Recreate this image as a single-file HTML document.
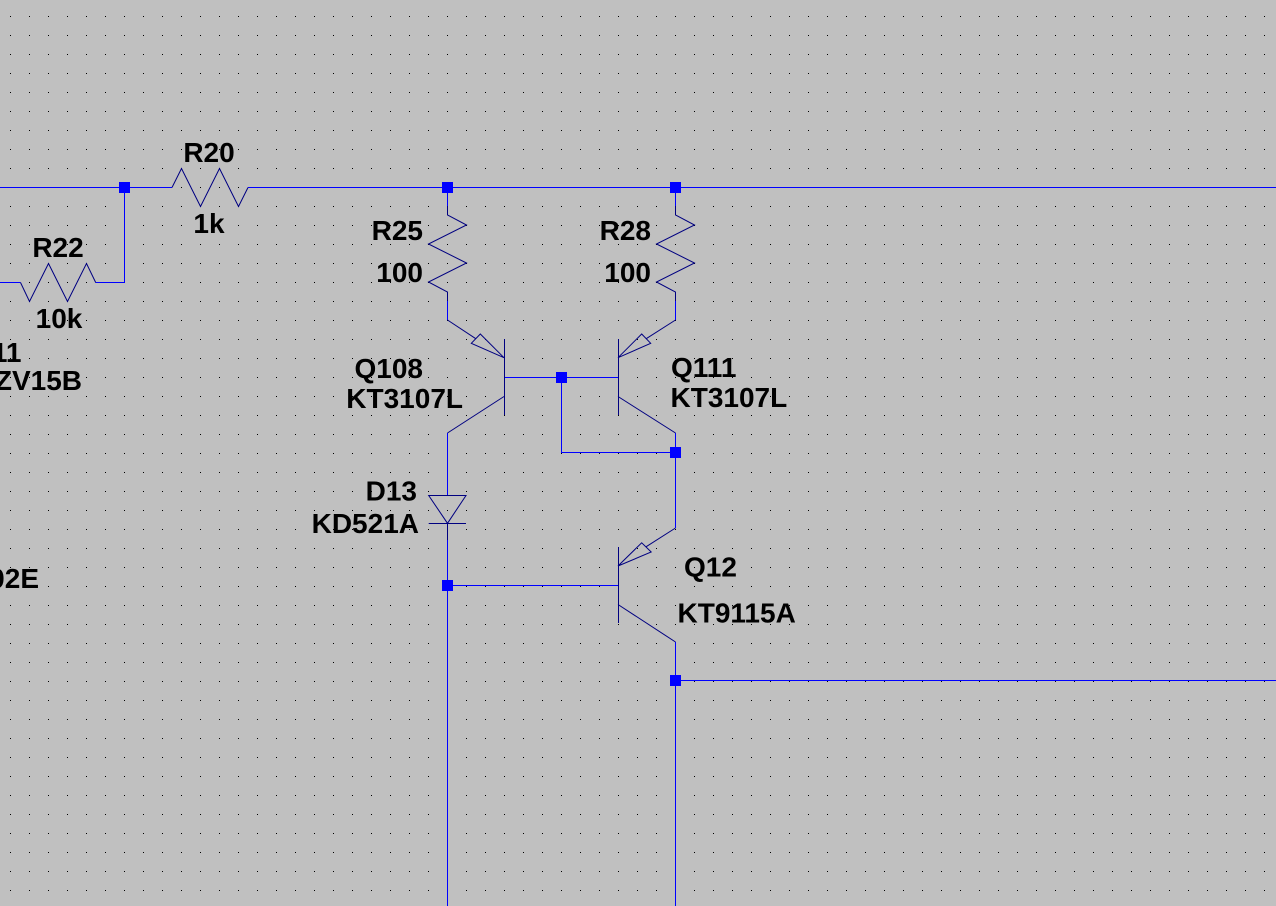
<!DOCTYPE html>
<html>
<head>
<meta charset="utf-8">
<style>
html,body{margin:0;padding:0;background:#c0c0c0;}
svg{display:block;}
text{font-family:"Liberation Sans",Arial,sans-serif;font-weight:bold;font-size:28px;fill:#000;}
</style>
</head>
<body>
<svg width="1276" height="906" viewBox="0 0 1276 906" xmlns="http://www.w3.org/2000/svg">
<defs>
<pattern id="g" x="10" y="16" width="19" height="19" patternUnits="userSpaceOnUse">
<rect x="0" y="0" width="1" height="1" fill="#000"/>
</pattern>
</defs>
<rect width="1276" height="906" fill="#c0c0c0"/>
<rect width="1276" height="906" fill="url(#g)"/>

<!-- WIRES -->
<g stroke="#0000ff" stroke-width="1" fill="none" shape-rendering="crispEdges">
<line x1="0" y1="187.5" x2="172" y2="187.5"/>
<line x1="248" y1="187.5" x2="1276" y2="187.5"/>
<polyline points="124.5,187.5 124.5,282.5 95.7,282.5"/>
<line x1="0" y1="282.5" x2="20.5" y2="282.5"/>
<line x1="447.5" y1="187" x2="447.5" y2="206"/>
<line x1="447.5" y1="301" x2="447.5" y2="320"/>
<line x1="675.5" y1="187" x2="675.5" y2="206"/>
<line x1="675.5" y1="301" x2="675.5" y2="320"/>
<line x1="504.5" y1="377.5" x2="618.5" y2="377.5"/>
<polyline points="561.5,377.5 561.5,452.5 675.5,452.5"/>
<line x1="675.5" y1="433" x2="675.5" y2="528"/>
<line x1="447.5" y1="433" x2="447.5" y2="495"/>
<line x1="447.5" y1="540" x2="447.5" y2="906"/>
<line x1="447.5" y1="585.5" x2="618.5" y2="585.5"/>
<line x1="675.5" y1="642" x2="675.5" y2="906"/>
<line x1="675.5" y1="680.5" x2="1276" y2="680.5"/>
</g>

<!-- SYMBOLS -->
<g stroke="#000080" stroke-width="1" fill="none">
<!-- R20 -->
<polyline points="172,187.5 181.5,168.5 200.5,206.5 219.5,168.5 238.5,206.5 248,187.5"/>
<!-- R22 -->
<polyline points="95.7,282.5 86.5,263.5 67.5,301.5 48.5,263.5 29.5,301.5 20.5,282.5"/>
<!-- R25 -->
<polyline points="447.5,206 447.5,215 466.5,225 428.5,244 466.5,263 428.5,282 447.5,292 447.5,301"/>
<!-- R28 -->
<polyline points="675.5,206 675.5,215 694.5,225 656.5,244 694.5,263 656.5,282 675.5,292 675.5,301"/>

<!-- Q108 -->
<line x1="504.5" y1="339" x2="504.5" y2="415"/>
<line x1="447.5" y1="320" x2="475.8" y2="338.7"/>
<polygon points="471.3,343.3 480.3,334 504,357.7"/>
<line x1="504" y1="396.5" x2="447.5" y2="433"/>

<!-- Q111 -->
<line x1="618.5" y1="339" x2="618.5" y2="415"/>
<line x1="675.5" y1="320" x2="646.2" y2="338.7"/>
<polygon points="650.7,343.3 641.7,334 618,357.7"/>
<line x1="618" y1="396.5" x2="675.5" y2="433"/>

<!-- Q12 -->
<line x1="618.5" y1="547" x2="618.5" y2="623"/>
<line x1="675.5" y1="528" x2="646.2" y2="546.7"/>
<polygon points="651.2,552 641.7,542.8 618,566"/>
<line x1="618" y1="604.5" x2="675.5" y2="642"/>

<!-- D13 -->
<polygon points="428.7,495.5 466,495.5 447.5,523.3"/>
<line x1="428.7" y1="523.5" x2="466" y2="523.5"/>
<line x1="447.5" y1="523" x2="447.5" y2="540"/>
</g>

<!-- JUNCTIONS -->
<g fill="#0000ff" shape-rendering="crispEdges">
<rect x="119" y="182" width="11" height="11"/>
<rect x="442" y="182" width="11" height="11"/>
<rect x="670" y="182" width="11" height="11"/>
<rect x="556" y="372" width="11" height="11"/>
<rect x="670" y="447" width="11" height="11"/>
<rect x="442" y="580" width="11" height="11"/>
<rect x="670" y="675" width="11" height="11"/>
</g>

<!-- LABELS -->
<text x="209" y="162" text-anchor="middle">R20</text>
<text x="209" y="233" text-anchor="middle">1k</text>
<text x="58" y="257" text-anchor="middle">R22</text>
<text x="59" y="328" text-anchor="middle">10k</text>
<text x="21.5" y="362" text-anchor="end">D11</text>
<text x="82" y="390" text-anchor="end">BZV15B</text>
<text x="39" y="588" text-anchor="end">02E</text>

<text x="423" y="240" text-anchor="end">R25</text>
<text x="423" y="282" text-anchor="end">100</text>
<text x="651" y="240" text-anchor="end">R28</text>
<text x="651" y="282" text-anchor="end">100</text>

<text x="423" y="378" text-anchor="end">Q108</text>
<text x="463" y="408" text-anchor="end">KT3107L</text>

<text x="671" y="377" text-anchor="start">Q111</text>
<text x="670.5" y="407" text-anchor="start">KT3107L</text>

<text x="417" y="500.5" text-anchor="end">D13</text>
<text x="419" y="533" text-anchor="end">KD521A</text>

<text x="684" y="576.5" text-anchor="start">Q12</text>
<text x="677.5" y="622.5" text-anchor="start">KT9115A</text>
</svg>
</body>
</html>
